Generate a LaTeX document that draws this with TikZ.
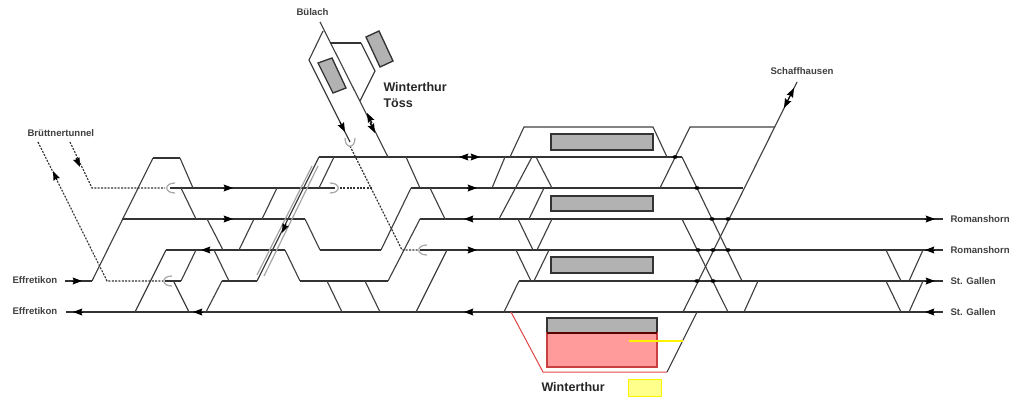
\documentclass[tikz,border=0pt]{standalone}
\usepackage{fontspec}
\setmainfont{Liberation Sans}
\usetikzlibrary{arrows.meta}
\definecolor{platformgray}{RGB}{178,178,178}
\definecolor{tracklight}{RGB}{165,165,165}
\definecolor{redfill}{RGB}{255,155,155}
\definecolor{yellowfill}{RGB}{255,255,140}
\definecolor{hallred}{RGB}{225,70,70}
\tikzset{every picture/.style={line width=0.75pt}}
\tikzset{
	track/.style={draw=black!75,line width=0.85pt},
	mainline/.style={draw=black!80,line width=1pt},
	tunnel/.style={draw=black!80,line width=0.85pt,dash pattern={on 1.5pt off 1pt}},
	hook/.style={draw=tracklight,line width=0.9pt},
	tunnelwall/.style={draw=tracklight,line width=0.9pt},
	platform/.style={draw=black!80,line width=1pt,fill=platformgray},
	trackarrow/.style={draw=black,-{Stealth[length=7pt,width=5.2pt,inset=1pt]}},
	townlabel/.style={anchor=north west,inner sep=0.75pt,text=black!75,font=\fontsize{7.2pt}{9pt}\bfseries\selectfont},
	stationlabel/.style={anchor=north west,inner sep=0.75pt,text=black!85,align=left,font=\fontsize{9.4pt}{12pt}\bfseries\selectfont}
}
\begin{document}
\begin{tikzpicture}[x=0.75pt,y=0.75pt,yscale=-1,xscale=1]
	\useasboundingbox (0,0) rectangle (1021,403);

	%Main tracks
	\draw [mainline] (319,157) -- (682,157) ;
	\draw [track] (682,157) -- (742,281) ;
	\draw [mainline] (170,188) -- (335,188) ;
	\draw [mainline] (411,188) -- (743,188) ;
	\draw [mainline] (122,219) -- (305,219) ;
	\draw [track] (305,219) -- (320,250) ;
	\draw [mainline] (320,250) -- (381,250) ;
	\draw [track] (381,250) -- (411,188) ;
	\draw [mainline] (420,219) -- (943,219) ;
	\draw [mainline] (166,250) -- (285,250) ;
	\draw [track] (285,250) -- (300,281) ;
	\draw [mainline] (300,281) -- (388,281) ;
	\draw [track] (388,281) -- (420,219) ;
	\draw [mainline] (420,250) -- (943,250) ;
	\draw [mainline] (165,281) -- (181,281) ;
	\draw [track] (181,281) -- (196,250) ;
	\draw [mainline] (222,281) -- (257,281) ;
	\draw [track] (257,281) -- (319,157) ;
	\draw [mainline] (519,281) -- (943,281) ;
	\draw [mainline] (66,312) -- (943,312) ;
	\draw [mainline] (65,281) -- (92,281) ;
	\draw [track] (92,281) -- (153,158) ;
	\draw [mainline] (153,158) -- (180,158) ;
	\draw [track] (180,158) -- (193,188) ;

	%Crossovers left
	\draw [track] (181,188) -- (196,219) ;
	\draw [track] (207,219) -- (223,250) ;
	\draw [track] (254,219) -- (239,250) ;
	\draw [track] (166,250) -- (135,312) ;
	\draw [track] (214,250) -- (229,281) ;
	\draw [track] (174,282) -- (189,312) ;
	\draw [track] (222,281) -- (206,312) ;
	\draw [track] (277,188) -- (262,219) ;
	\draw [track] (334,157) -- (319,188) ;

	%Crossovers middle
	\draw [track] (406,157) -- (420,188) ;
	\draw [track] (430,188) -- (445,219) ;
	\draw [track] (447,250) -- (416,312) ;
	\draw [track] (327,281) -- (342,312) ;
	\draw [track] (365,281) -- (380,312) ;
	\draw [track] (505,157) -- (492,188) ;
	\draw [track] (532,157) -- (499,219) ;
	\draw [track] (536,157) -- (552,188) ;
	\draw [track] (544,188) -- (529,219) ;
	\draw [track] (518,219) -- (533,250) ;
	\draw [track] (552,219) -- (537,250) ;
	\draw [track] (516,250) -- (531,281) ;
	\draw [track] (549,250) -- (534,281) ;
	\draw [track] (519,281) -- (504,312) ;

	%Station loops
	\draw [track] (510,157) -- (524,127) -- (653,127) -- (667,157) ;
	\draw [track] (660,188) -- (690,127) -- (775,127) ;
	\draw [track] (797,82) -- (683,312) ;
	\draw [track] (682,219) -- (728,312) ;
	\draw [track] (758,281) -- (744,312) ;
	\draw [track] (886,250) -- (901,281) ;
	\draw [track] (923,250) -- (909,281) ;
	\draw [track] (886,281) -- (901,312) ;
	\draw [track] (923,281) -- (909,312) ;

	%Toess branch
	\draw [track] (320,22) -- (388,157) ;
	\draw [track] (323,31) -- (309,60) -- (350,142) ;
	\draw [track] (361,43) -- (375,71) -- (360,101) ;
	\draw [mainline] (330,43) -- (361,43) ;

	%Tunnel ramps
	\draw [tunnel] (70,142) -- (92,188) -- (165,188) ;
	\draw [tunnel] (38,142) -- (107,281) -- (163,281) ;
	\draw [tunnel] (340,188) -- (373,188) ;
	\draw [tunnel] (350,146) -- (402,250) -- (418,250) ;
	\draw [tunnelwall] (312,166) -- (257,275) ;
	\draw [tunnelwall] (318,166) -- (264,276) ;

	%Tunnel mouths
	\draw [hook] (175,183) .. controls (164,183) and (164,193) .. (175,193) ;
	\draw [hook] (172,276) .. controls (161,276) and (161,286) .. (172,286) ;
	\draw [hook] (330,183) .. controls (341,183) and (341,193) .. (330,193) ;
	\draw [hook] (427,245) .. controls (416,245) and (416,255) .. (427,255) ;
	\draw [hook] (345,138) .. controls (345,149) and (355,149) .. (355,138) ;

	%Arrows
	\draw [trackarrow] (223,188) -- (233,188) ;
	\draw [trackarrow] (223,219) -- (233,219) ;
	\draw [trackarrow] (211,250) -- (201,250) ;
	\draw [trackarrow] (203,312) -- (193,312) ;
	\draw [trackarrow] (83,312) -- (73,312) ;
	\draw [trackarrow] (72,281) -- (82,281) ;
	\draw [trackarrow] (467,157) -- (459,157) ;
	\draw [trackarrow] (471,157) -- (480,157) ;
	\draw [trackarrow] (467,188) -- (477,188) ;
	\draw [trackarrow] (473,219) -- (464,219) ;
	\draw [trackarrow] (467,250) -- (477,250) ;
	\draw [trackarrow] (473,312) -- (464,312) ;
	\draw [trackarrow] (925,219) -- (935,219) ;
	\draw [trackarrow] (935,250) -- (925,250) ;
	\draw [trackarrow] (925,281) -- (935,281) ;
	\draw [trackarrow] (935,312) -- (925,312) ;
	\draw [trackarrow] (57,180) -- (53,171) ;
	\draw [trackarrow] (76,158) -- (80,167) ;
	\draw [trackarrow] (286,224) -- (282,233) ;
	\draw [trackarrow] (340,122) -- (345,132) ;
	\draw [trackarrow] (372,123) -- (367,113) ;
	\draw [trackarrow] (370,123) -- (375,133) ;
	\draw [trackarrow] (789,98) -- (794,88) ;
	\draw [trackarrow] (789,98) -- (784,108) ;

	%Crossing marks
	\fill (675,157) ellipse (2.6 and 1.8) ;
	\fill (697,188) ellipse (2.6 and 1.8) ;
	\fill (712,219) ellipse (2.6 and 1.8) ;
	\fill (728,219) ellipse (2.6 and 1.8) ;
	\fill (698,250) ellipse (2.6 and 1.8) ;
	\fill (713,250) ellipse (2.6 and 1.8) ;
	\fill (728,250) ellipse (2.6 and 1.8) ;
	\fill (697,281) ellipse (2.6 and 1.8) ;
	\fill (713,281) ellipse (2.6 and 1.8) ;

	%Platforms
	\draw [platform] (551,134) rectangle (653,150) ;
	\draw [platform] (551,196) rectangle (653,211) ;
	\draw [platform] (551,257) rectangle (653,273) ;
	\draw [platform] (547,318) rectangle (657,333) ;
	\draw [platform] (366,37) -- (379,31) -- (393,61) -- (380,67) -- cycle ;
	\draw [platform] (318,63) -- (332,58) -- (346,88) -- (333,93) -- cycle ;

	%Winterthur hall
	\draw [draw=hallred!90!black,line width=1pt,fill=redfill] (547,333) rectangle (657,367) ;
	\draw [draw=black!50!red!70!black,line width=1pt] (547,333) -- (657,333) ;
	\draw [draw=hallred] (511,312) -- (543,372) -- (667,372) ;
	\draw [track] (667,372) -- (697,312) ;
	\draw [draw=yellow,line width=1pt] (629,341) -- (683,341) ;
	\draw [draw=yellow,fill=yellowfill] (628,379) rectangle (661,396) ;

	% Text Node
	\draw (295,7) node (buelach) [townlabel] {Bülach};
	% Text Node
	\draw (382,81) node (winterthurtoess) [stationlabel] {Winterthur\\Töss};
	% Text Node
	\draw (769,66) node (schaffhausen) [townlabel] {Schaffhausen};
	% Text Node
	\draw (26,128) node (bruettnertunnel) [townlabel] {Brüttnertunnel};
	% Text Node
	\draw (11,275) node (effretikonA) [townlabel] {Effretikon};
	% Text Node
	\draw (11,306) node (effretikonB) [townlabel] {Effretikon};
	% Text Node
	\draw (949,214) node (romanshornA) [townlabel] {Romanshorn};
	% Text Node
	\draw (949,245) node (romanshornB) [townlabel] {Romanshorn};
	% Text Node
	\draw (949,276) node (stgallenA) [townlabel] {St. Gallen};
	% Text Node
	\draw (949,307) node (stgallenB) [townlabel] {St. Gallen};
	% Text Node
	\draw (540,381) node (winterthur) [stationlabel] {Winterthur};
\end{tikzpicture}
\end{document}
